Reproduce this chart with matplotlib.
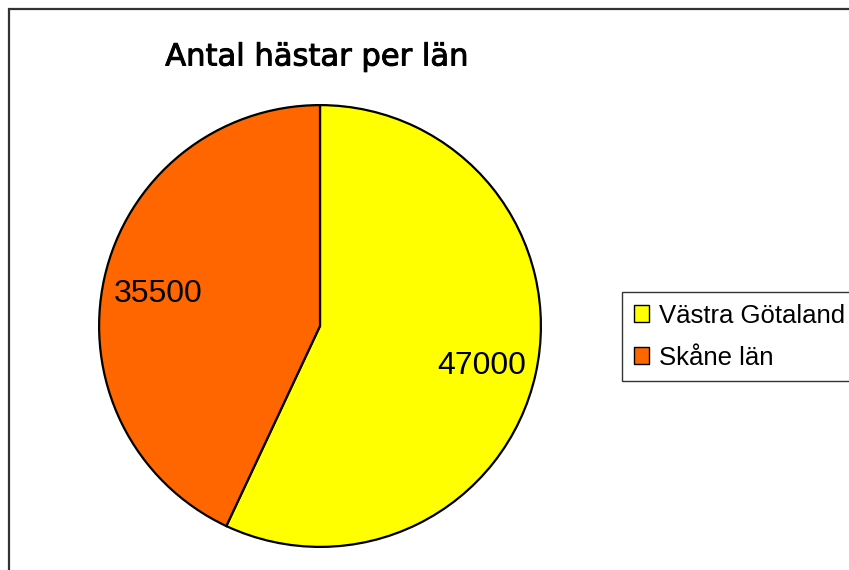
"""
Pie chart: number of horses per county.
"""

import matplotlib.pyplot as plt
import matplotlib.patheffects as pe
from matplotlib.patches import Rectangle

plt.rcParams['font.family'] = ['Liberation Sans', 'DejaVu Sans']

# * Data
counties = ['Västra Götaland', 'Skåne län']
horses = [47000, 35500]
colors = ['#FFFF00', '#FF6600']
title = 'Antal hästar per län'


def main():
    fig = plt.figure(figsize=(8.49, 5.70), dpi=100)

    # * Outer chart frame (runs off the right and bottom edges)
    fig.patches.append(Rectangle((9 / 849, -0.05), 1.2, 1 - 9 / 570 + 0.05,
                                 transform=fig.transFigure, fill=False,
                                 edgecolor='#333333', linewidth=1.6))

    # * Pie axes: centre (320, 326), radius 222 px
    ax = fig.add_axes([(320 - 222) / 849, 1 - (326 + 222) / 570,
                       444 / 849, 444 / 570])
    wedges, _, autotexts = ax.pie(
        horses, colors=colors, startangle=90, counterclock=False,
        autopct=lambda p: f'{p * sum(horses) / 100:.0f}', pctdistance=0.75,
        wedgeprops=dict(edgecolor='black', linewidth=1.6),
        textprops=dict(fontsize=23))
    for t in autotexts:
        x, y = t.get_position()
        t.set_position((x, y - 0.02))
    ax.set_xlim(-1.005, 1.005)
    ax.set_ylim(-1.005, 1.005)
    ax.set_aspect('equal')

    fig.text(317 / 849, 1 - 57 / 570, title, ha='center', va='center',
             fontsize=22, color='black', family=['DejaVu Sans'],
             path_effects=[pe.withStroke(linewidth=0.7, foreground='black')])

    # * Legend box runs off the right edge like the original
    leg = fig.legend(wedges, counties, loc='upper left', mode='expand',
                     bbox_to_anchor=(622 / 849, 1 - 292 / 570, 0.3, 0),
                     fontsize=18.5, frameon=True, fancybox=False,
                     edgecolor='black', handlelength=0.6, handleheight=0.6,
                     handletextpad=0.4, borderpad=0.45, labelspacing=0.7,
                     borderaxespad=0)
    leg.get_frame().set_linewidth(1.0)
    for h in leg.legend_handles:
        h.set_linewidth(1.0)

    fig.savefig('out.png', dpi=100)


if __name__ == "__main__":
    main()
